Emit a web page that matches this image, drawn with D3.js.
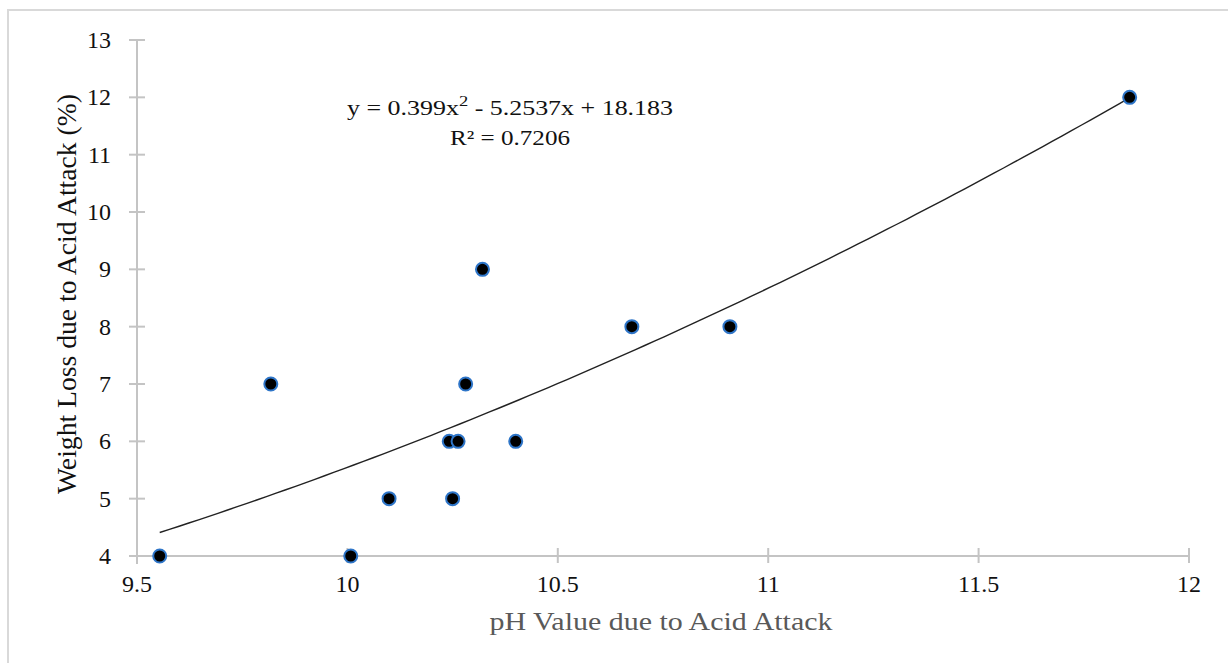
<!DOCTYPE html>
<html><head><meta charset="utf-8">
<script src="https://cdn.jsdelivr.net/npm/d3@7"></script>
<style>body{margin:0;background:#fff}svg{display:block}</style>
</head><body><svg id="c" width="1228" height="663" font-family="'Liberation Serif', 'Times New Roman', serif"></svg>
<script>
const phValues = [9.554, 9.818, 10.008, 10.099, 10.242, 10.263, 10.250, 10.281, 10.321, 10.400, 10.676, 10.909, 11.859];
const weightLoss = [4, 7, 4, 5, 6, 6, 5, 7, 9, 6, 8, 8, 12];
const xTicks = [9.5, 10, 10.5, 11, 11.5, 12];
const yTicks = [4, 5, 6, 7, 8, 9, 10, 11, 12, 13];
const trendCoef = [0.399, -5.2537, 18.183];
const eqText = "y = 0.399x";
const eqRest = "  - 5.2537x + 18.183";
const r2Text = "R² = 0.7206";

const FONT = "'Liberation Serif', 'Times New Roman', serif";
const svg = d3.select("#c");
svg.append("rect").attr("x",8).attr("y",10).attr("width",1240).attr("height",700)
  .attr("fill","none").attr("stroke","#d9d9d9").attr("stroke-width",2);

const x = d3.scaleLinear().domain([9.5,12]).range([137,1189]);
const y = d3.scaleLinear().domain([4,13]).range([556,40]);
const axisColor = "#c4c4c4";

// y axis
svg.append("line").attr("x1",x(9.5)).attr("x2",x(9.5)).attr("y1",y(13)).attr("y2",y(4)+8)
  .attr("stroke",axisColor).attr("stroke-width",2);
svg.selectAll(".yt").data(yTicks).enter().append("line")
  .attr("x1",x(9.5)-8).attr("x2",x(9.5)+8).attr("y1",d=>y(d)).attr("y2",d=>y(d))
  .attr("stroke",axisColor).attr("stroke-width",2);
svg.selectAll(".yl").data(yTicks).enter().append("text")
  .attr("x",111).attr("y",d=>y(d)+8).attr("text-anchor","end").attr("font-family",FONT)
  .attr("font-size",24).attr("fill","#111").text(d=>d);

// x axis
svg.append("line").attr("x1",x(9.5)-8).attr("x2",x(12)).attr("y1",y(4)).attr("y2",y(4))
  .attr("stroke",axisColor).attr("stroke-width",2);
svg.selectAll(".xt").data(xTicks).enter().append("line")
  .attr("x1",d=>x(d)).attr("x2",d=>x(d)).attr("y1",y(4)-8).attr("y2",y(4)+7)
  .attr("stroke",axisColor).attr("stroke-width",2);
svg.selectAll(".xl").data(xTicks).enter().append("text")
  .attr("x",d=>x(d)).attr("y",592).attr("text-anchor","middle").attr("font-family",FONT)
  .attr("font-size",24).attr("fill","#111").text(d=>d);

// titles
svg.append("text").attr("x",661).attr("y",630).attr("text-anchor","middle").attr("font-family",FONT)
  .attr("font-size",25).attr("fill","#595959")
  .attr("textLength",343).attr("lengthAdjust","spacingAndGlyphs").text("pH Value due to Acid Attack");
svg.append("text").attr("transform","translate(76,294) rotate(-90)").attr("text-anchor","middle").attr("font-family",FONT)
  .attr("font-size",27).attr("fill","#111")
  .attr("textLength",400).attr("lengthAdjust","spacingAndGlyphs").text("Weight Loss due to Acid Attack (%)");

// trendline
const xmin = d3.min(phValues), xmax = d3.max(phValues);
const tx = d3.range(0,101).map(i => xmin + (xmax-xmin)*i/100);
const f = v => trendCoef[0]*v*v + trendCoef[1]*v + trendCoef[2];
svg.append("path").datum(tx)
  .attr("d", d3.line().x(d=>x(d)).y(d=>y(f(d))))
  .attr("fill","none").attr("stroke","#222").attr("stroke-width",1.4);

// points
const defs = svg.append("defs");
defs.append("filter").attr("id","bl").append("feGaussianBlur").attr("stdDeviation",0.6);
svg.selectAll(".pt").data(phValues).enter().append("circle")
  .attr("cx",d=>x(d)).attr("cy",(d,i)=>y(weightLoss[i])).attr("r",6.5)
  .attr("fill","#000").attr("stroke","#2e75c8").attr("stroke-width",2)
  .attr("filter","url(#bl)");

// equation
const eq = svg.append("text").attr("x",347).attr("y",115).attr("font-size",21).attr("fill","#111")
  .attr("font-family",FONT).attr("textLength",326).attr("lengthAdjust","spacingAndGlyphs");
eq.append("tspan").text(eqText);
eq.append("tspan").attr("dy",-9).attr("font-size",15).text("2");
eq.append("tspan").attr("dy",9).text(eqRest);
svg.append("text").attr("x",510).attr("y",145).attr("text-anchor","middle").attr("font-family",FONT)
  .attr("font-size",21).attr("fill","#111")
  .attr("textLength",120).attr("lengthAdjust","spacingAndGlyphs").text(r2Text);
</script></body></html>
